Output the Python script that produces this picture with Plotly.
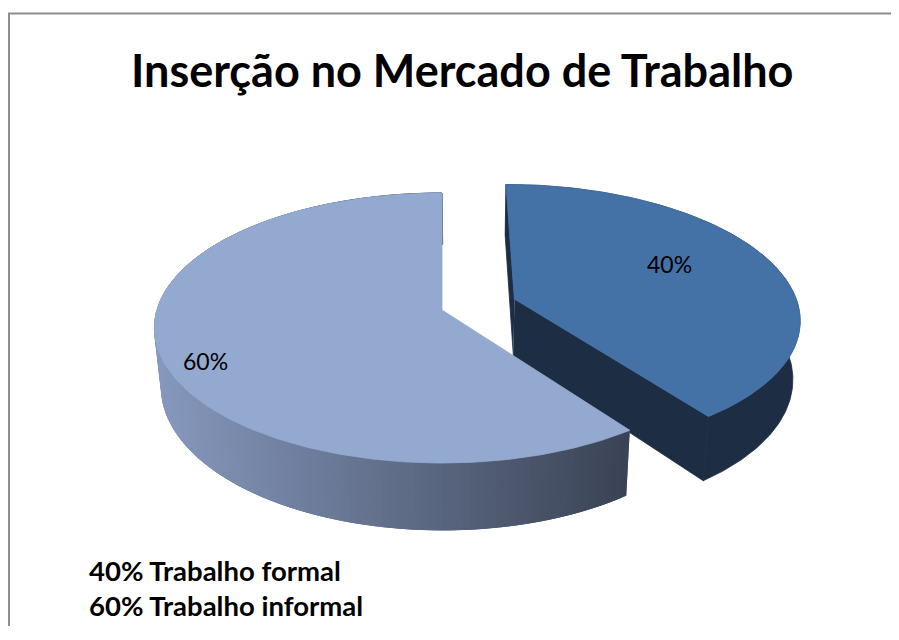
import numpy as np
import plotly.graph_objects as go

# ---------------- data ----------------
categories = ["Trabalho formal", "Trabalho informal"]
values = [40, 60]
title_text = "Inserção no Mercado de Trabalho"

# ---------------- style ----------------
TOP_COLORS = ["#4472A7", "#94A9CF"]
WALL_COLORS = ["#1D2D44", "#6B7B98"]
WALL_GRAD = [None, ("#8799BE", "#394253")]
EXPLODE = [0.27, 0.0]
LABEL_POS = [(669, 264), (205, 361)]
FONT = "Lato"

PAGE_MARGIN = 8          # default body margin of the html page
W, H = 899, 640
FW, FH = W - 2 * PAGE_MARGIN, H - 2 * PAGE_MARGIN - 6
CX, CY = 442, 310      # projected pie centre
A, B = 285, 132.6      # horizontal / vertical radius
D = 7.5                # perspective distance
T = 58                 # thickness
XC, EPS = 470, 0.022   # slight convergence of vertical edges
BORDER_X, BORDER_Y = 9, 13.5


def proj(X, Z, bottom=False):
    X = np.asarray(X, float)
    Z = np.asarray(Z, float)
    s = D / (D - Z)
    x = CX + A * X * s
    y = CY + B * Z * s
    if bottom:
        y = y + T * s
        x = x - (x - XC) * EPS
    return x, y


def hex2rgb(h):
    h = h.lstrip("#")
    return [int(h[i:i + 2], 16) for i in (0, 2, 4)]


def mix(c1, c2, t):
    a, b = hex2rgb(c1), hex2rgb(c2)
    t = min(max(t, 0), 1)
    return "rgb(%d,%d,%d)" % tuple(round(a[i] + (b[i] - a[i]) * t) for i in range(3))


def poly(x, y, color):
    return go.Scatter(x=list(x), y=list(y), fill="toself", fillcolor=color,
                      line=dict(color=color, width=0.8), mode="lines",
                      hoverinfo="skip", showlegend=False)


fig = go.Figure()
total = float(sum(values))
start = 0.0
for i, v in enumerate(values):
    th0 = start
    th1 = start + 360.0 * v / total
    start = th1
    mid = np.radians((th0 + th1) / 2)
    ex, ez = EXPLODE[i] * np.sin(mid), -EXPLODE[i] * np.cos(mid)
    th = np.radians(np.linspace(th0, th1, 181))
    ax_, az_ = ex + np.sin(th), ez - np.cos(th)

    tx, ty = proj(ax_, az_)
    bx, by = proj(ax_, az_, bottom=True)
    cx_t, cy_t = proj(ex, ez)
    cx_b, cy_b = proj(ex, ez, bottom=True)

    # outer wall (band)
    fig.add_trace(poly(np.r_[tx, bx[::-1]], np.r_[ty, by[::-1]], WALL_COLORS[i]))
    if WALL_GRAD[i] is not None:
        c1, c2 = WALL_GRAD[i]
        xmin, xmax = tx.min(), tx[0]
        n = len(th)
        for k in range(0, n - 1):
            kk = min(k + 2, n - 1)
            xs = [tx[k], tx[kk], bx[kk], bx[k]]
            ys = [ty[k], ty[kk], by[kk], by[k]]
            col = mix(c1, c2, (np.mean(xs) - xmin) / (xmax - xmin))
            fig.add_trace(poly(xs, ys, col))
    else:
        # radial faces (start edge and end edge)
        fig.add_trace(poly([cx_t, tx[0], bx[0], cx_b], [cy_t, ty[0], by[0], cy_b], WALL_COLORS[i]))
        fig.add_trace(poly([cx_t, tx[-1], bx[-1], cx_b], [cy_t, ty[-1], by[-1], cy_b], WALL_COLORS[i]))

    # top face
    fig.add_trace(poly(np.r_[cx_t, tx, cx_t], np.r_[cy_t, ty, cy_t], TOP_COLORS[i]))

    # data label
    fig.add_annotation(x=LABEL_POS[i][0], y=LABEL_POS[i][1], text=f"{v}%", showarrow=False,
                       font=dict(family=FONT, size=23, color="#000000"),
                       xanchor="center", yanchor="middle")

# bottom-left text
for j, (v, c) in enumerate(zip(values, categories)):
    fig.add_annotation(x=87, y=570 + 35 * j, text=f"<b>{v}% {c}</b>", showarrow=False,
                       font=dict(family=FONT, size=27.5, color="#000000"),
                       xanchor="left", yanchor="middle")

fig.add_annotation(x=462, y=70, text=f"<b>{title_text}</b>", showarrow=False,
                   font=dict(family=FONT, size=45, color="#000000"),
                   xanchor="center", yanchor="middle")

# chart-area border (only top and left edges are inside the picture)
fig.add_trace(go.Scatter(x=[BORDER_X, BORDER_X, PAGE_MARGIN + FW + 5],
                         y=[PAGE_MARGIN + FH + 5, BORDER_Y, BORDER_Y],
                         mode="lines", line=dict(color="#8E8E8E", width=2),
                         hoverinfo="skip", showlegend=False, cliponaxis=False))

fig.update_layout(
    width=FW, height=FH,
    margin=dict(l=0, r=0, t=0, b=0),
    paper_bgcolor="white", plot_bgcolor="white",
    xaxis=dict(range=[PAGE_MARGIN, PAGE_MARGIN + FW], visible=False, fixedrange=True),
    yaxis=dict(range=[PAGE_MARGIN + FH, PAGE_MARGIN], visible=False, fixedrange=True),
    showlegend=False,
)

fig.write_html("out.html")
